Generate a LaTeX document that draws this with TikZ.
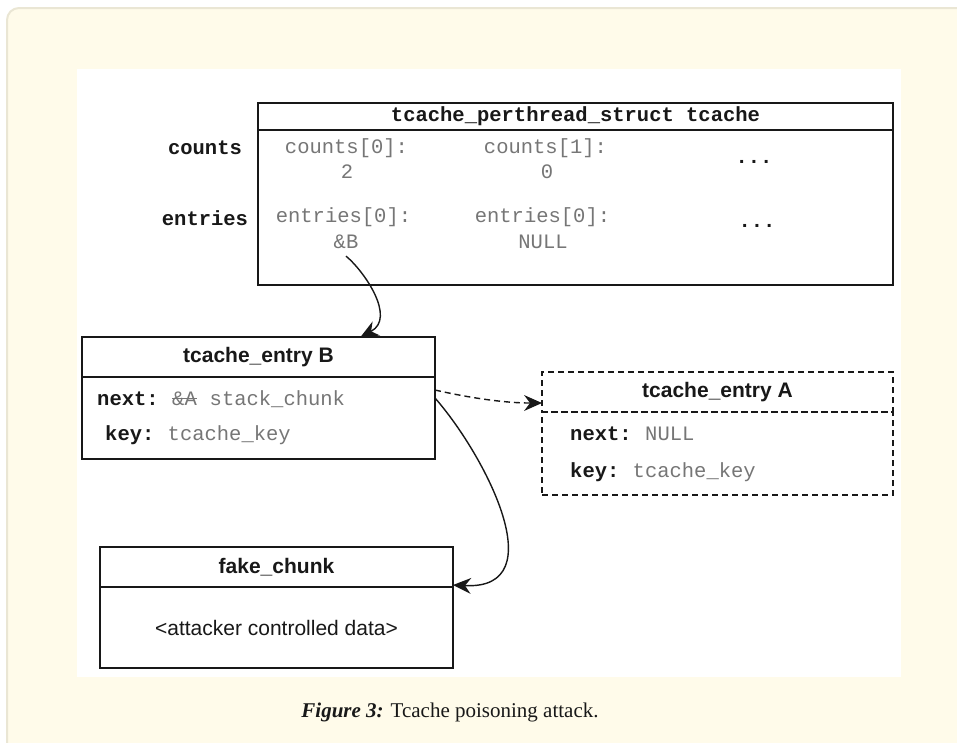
\documentclass[tikz,border=0pt]{standalone}
\usepackage{fontspec}
\setmainfont{Liberation Serif}
\setsansfont{Liberation Sans}
\setmonofont{Liberation Mono}
\usetikzlibrary{arrows.meta}

\definecolor{panel}{RGB}{255,251,234}
\definecolor{panelrule}{RGB}{234,230,212}
\definecolor{ink}{RGB}{24,24,24}
\definecolor{mutedtext}{RGB}{118,118,118}

\tikzset{
  boxline/.style={draw=ink, line width=1.3pt},
  boxpart/.style={boxline, anchor=north west, inner sep=0pt, outer sep=0pt},
  dashpart/.style={boxpart, dash pattern=on 6pt off 4pt},
  titletxt/.style={font=\sffamily\bfseries\fontsize{21}{24}\selectfont, text=ink},
  hdrmono/.style={font=\ttfamily\bfseries\fontsize{20.5}{24}\selectfont, text=ink},
  monotxt/.style={font=\ttfamily\fontsize{20.5}{24}\selectfont, text=mutedtext, inner sep=0pt},
  monolbl/.style={font=\ttfamily\bfseries\fontsize{20.5}{24}\selectfont, text=ink, inner sep=0pt},
  dotstxt/.style={font=\ttfamily\bfseries\fontsize{20.5}{24}\selectfont, text=ink, inner sep=0pt, anchor=base},
  plaintxt/.style={font=\sffamily\fontsize{21}{24}\selectfont, text=ink},
  link/.style={draw=ink, line width=1.4pt,
    arrows={-Stealth[length=18pt, width=16pt, inset=6pt, line width=0pt]}},
}

\begin{document}
\begin{tikzpicture}[x=1pt,y=-1pt]
  \useasboundingbox (0,0) rectangle (957,742);
  \clip (0,0) rectangle (957,742);

  % cream panel and white drawing area
  \draw[fill=panel, draw=panelrule, line width=2pt, rounded corners=12pt]
    (7,8) rectangle (990,780);
  \fill[white] (77,69) rectangle (901,677);

  % tcache_perthread_struct
  \node[boxpart, minimum width=635pt, minimum height=27pt, hdrmono]
    (thead) at (258,103) {tcache\_perthread\_struct tcache};
  \node[boxpart, minimum width=635pt, minimum height=155pt]
    (tbody) at (thead.south west) {};

  \node[monolbl] (lcounts) at (205,148) {counts};
  \node[monolbl] (lentries) at (205,218) {entries};

  \node[monotxt] (c0) at (346.5,148) {counts[0]:};
  \node[monotxt] (c0v) at (347,172) {2};
  \node[monotxt] (c1) at (545.5,148) {counts[1]:};
  \node[monotxt] (c1v) at (547,172) {0};
  \node[dotstxt] (cdots) at (754,163) {...};

  \node[monotxt] (e0) at (343.5,217) {entries[0]:};
  \node[monotxt] (e0v) at (346,242) {\&B};
  \node[monotxt] (e1) at (542.5,217) {entries[0]:};
  \node[monotxt] (e1v) at (543,242) {NULL};
  \node[dotstxt] (edots) at (757,227) {...};

  % tcache_entry B
  \node[boxpart, minimum width=353pt, minimum height=40pt, titletxt]
    (bhead) at (82,337) {tcache\_entry B};
  \node[boxpart, minimum width=353pt, minimum height=82pt]
    (bbody) at (bhead.south west) {};
  \node[monolbl, anchor=base west] (bnext) at (97,405) {next:};
  \node[monotxt, anchor=base west] (bold) at (172,405) {\&A};
  \draw[mutedtext, line width=1pt] (bold.west |- 0,398) -- (bold.east |- 0,398);
  \node[monotxt, anchor=base west] (bnew) at (209.5,405) {stack\_chunk};
  \node[monolbl, anchor=base west] (bkey) at (105,440) {key:};
  \node[monotxt, anchor=base west] (bkeyv) at (167.5,440) {tcache\_key};

  % tcache_entry A (freed, dashed)
  \node[dashpart, minimum width=351pt, minimum height=40pt, titletxt]
    (ahead) at (542,372) {tcache\_entry A};
  \node[dashpart, minimum width=351pt, minimum height=83pt]
    (abody) at (ahead.south west) {};
  \node[monolbl, anchor=base west] (anext) at (570,440) {next:};
  \node[monotxt, anchor=base west] (anextv) at (645,440) {NULL};
  \node[monolbl, anchor=base west] (akey) at (570,477) {key:};
  \node[monotxt, anchor=base west] (akeyv) at (632.5,477) {tcache\_key};

  % fake_chunk
  \node[boxpart, minimum width=353pt, minimum height=40pt, titletxt]
    (fhead) at (100,547) {fake\_chunk};
  \node[boxpart, minimum width=353pt, minimum height=81pt, plaintxt]
    (fbody) at (fhead.south west) {<attacker controlled data>};

  % pointers
  \draw[link] ([yshift=-7pt]e0v.south) .. controls (365,272) and (396,318) ..
    ([xshift=102pt]bhead.north);
  \draw[link, dash pattern=on 6pt off 4pt] ([yshift=28pt]bbody.east)
    .. controls (470,398) and (505,403) .. ([yshift=-11pt]ahead.east -| ahead.west);
  \draw[link] ([yshift=20pt]bbody.east) .. controls (485,455) and (555,590) ..
    ([yshift=2pt]fhead.south east);

  % caption
  \node[font=\fontsize{21}{26}\selectfont, text=ink, inner sep=0pt] (caption)
    at (450,712) {\textbf{\textit{Figure 3:}} Tcache poisoning attack.};
\end{tikzpicture}
\end{document}
